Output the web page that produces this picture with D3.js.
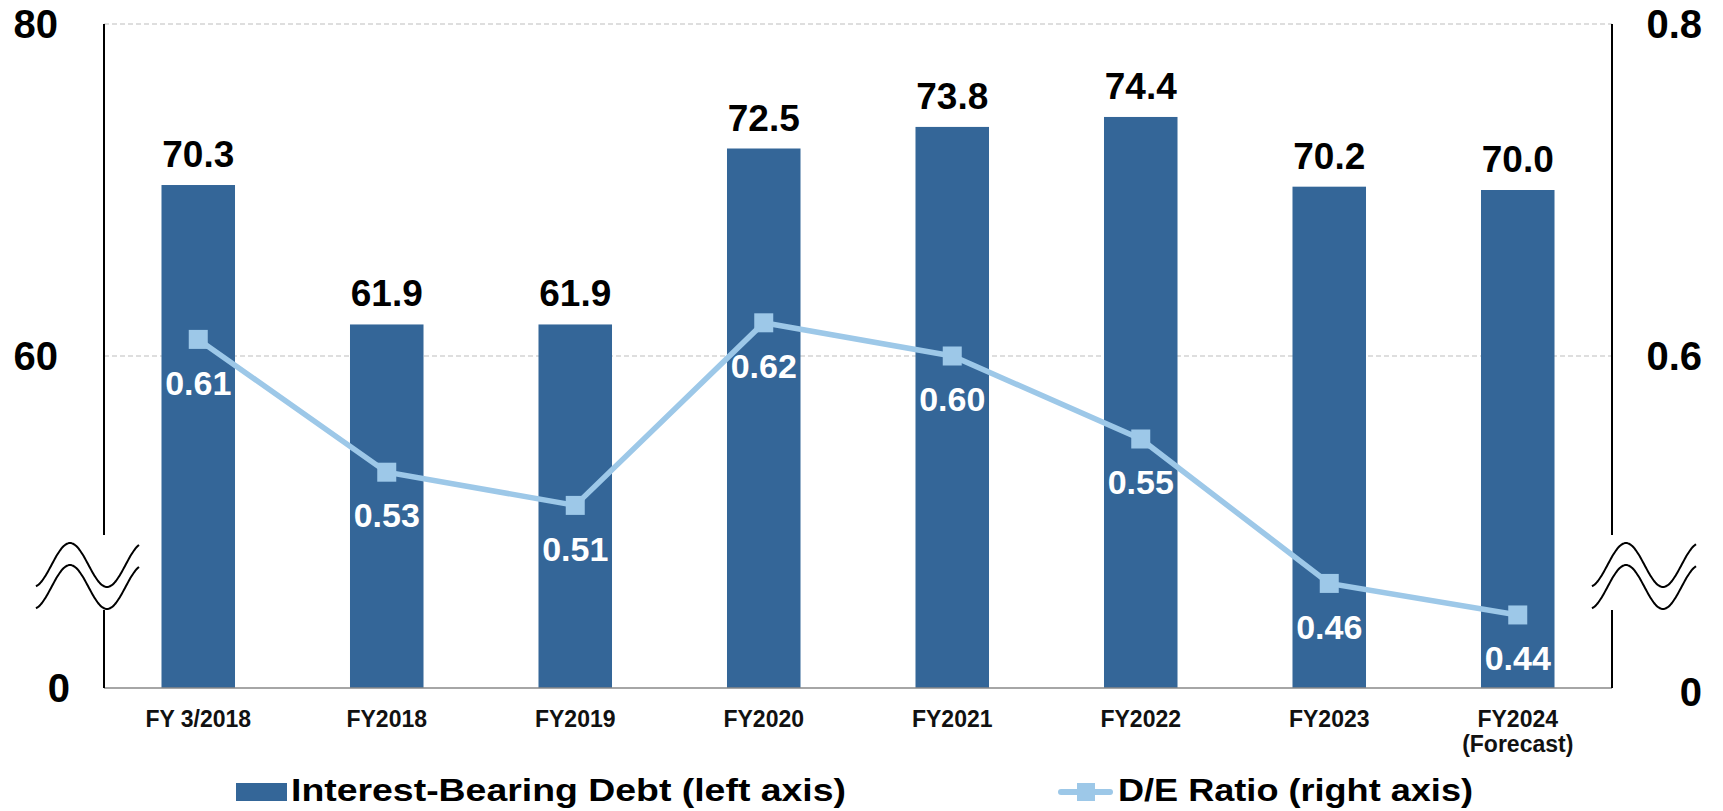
<!DOCTYPE html>
<html>
<head>
<meta charset="utf-8">
<script src="https://cdn.jsdelivr.net/npm/d3@7"></script>
<style>
  html, body { margin: 0; padding: 0; background: #fff; }
  text { font-family: "Liberation Sans", Arial, sans-serif; font-weight: bold; }
</style>
</head>
<body>
<div id="chart"></div>
<script>
// data
const years = ["FY 3/2018", "FY2018", "FY2019", "FY2020", "FY2021", "FY2022", "FY2023", "FY2024"];
const yearSub = ["", "", "", "", "", "", "", "(Forecast)"];
const debt = [70.3, 61.9, 61.9, 72.5, 73.8, 74.4, 70.2, 70.0];
const deRatio = [0.61, 0.53, 0.51, 0.62, 0.60, 0.55, 0.463, 0.444];
const deLabels = ["0.61", "0.53", "0.51", "0.62", "0.60", "0.55", "0.46", "0.44"];
const leftTicks = [60, 80];
const rightTicks = [0.6, 0.8];

const width = 1723, height = 811;
const barColor = "#346698", lineColor = "#9dc8e8";

const svg = d3.select("#chart")
              .append("svg")
              .attr("width", width)
              .attr("height", height);

const plotL = 104, plotR = 1612, plotT = 24, plotB = 688;

// axis is broken below 60 -> bottom of plot is really 40 (labelled 0)
const x = d3.scaleBand().domain(years).range([plotL, plotR]).paddingInner(0.61).paddingOuter(0.305);
const y = d3.scaleLinear().domain([40, 80]).range([plotB, plotT]);
const y2 = d3.scaleLinear().domain([0.4, 0.8]).range([plotB, plotT]);

// gridlines
svg.append("g")
   .selectAll("line")
   .data(leftTicks)
   .join("line")
   .attr("x1", plotL).attr("x2", plotR)
   .attr("y1", d => y(d)).attr("y2", d => y(d))
   .attr("stroke", "#d3d3d3")
   .attr("stroke-width", 1.5)
   .attr("stroke-dasharray", "5,3");

// bars
svg.append("g")
   .selectAll("rect")
   .data(debt)
   .join("rect")
   .attr("x", (d, i) => x(years[i]))
   .attr("y", d => y(d))
   .attr("width", x.bandwidth())
   .attr("height", d => plotB - y(d))
   .attr("fill", barColor);

// bar values
svg.append("g")
   .selectAll("text")
   .data(debt)
   .join("text")
   .attr("x", (d, i) => x(years[i]) + x.bandwidth() / 2)
   .attr("y", d => y(d) - 18)
   .attr("text-anchor", "middle")
   .attr("font-size", 37)
   .attr("fill", "#000")
   .text(d => d.toFixed(1));

// baseline
svg.append("line")
   .attr("x1", plotL).attr("x2", plotR)
   .attr("y1", plotB).attr("y2", plotB)
   .attr("stroke", "#888")
   .attr("stroke-width", 1.5);

// axis lines with a gap for the break mark
const gapTop = 535, gapBottom = 610;
[plotL, plotR].forEach(ax => {
    svg.append("path")
       .attr("d", `M${ax},${plotT}V${gapTop}M${ax},${gapBottom}V${plotB}`)
       .attr("stroke", "#000")
       .attr("stroke-width", 2)
       .attr("fill", "none");
});

// break marks (two waves)
function wave(x0, x1, peakX, cy) {
    const pts = d3.range(x0, x1 + 0.5, 1).map(px => [px, cy - 22 * Math.cos(2 * Math.PI * (px - peakX) / 74)]);
    return d3.line().curve(d3.curveBasis)(pts);
}
[[36, 139, 70], [1592, 1696, 1626]].forEach(([x0, x1, p]) => {
    [565, 587].forEach(cy => {
        svg.append("path")
           .attr("d", wave(x0, x1, p, cy))
           .attr("stroke", "#000")
           .attr("stroke-width", 2)
           .attr("fill", "none");
    });
});

// left tick labels
svg.append("g")
   .selectAll("text")
   .data(leftTicks)
   .join("text")
   .attr("x", 58)
   .attr("y", d => y(d))
   .attr("dy", "0.36em")
   .attr("text-anchor", "end")
   .attr("font-size", 40)
   .text(d => d);
svg.append("text")
   .attr("x", 70).attr("y", plotB).attr("dy", "0.36em")
   .attr("text-anchor", "end").attr("font-size", 40)
   .text("0");

// right tick labels
svg.append("g")
   .selectAll("text")
   .data(rightTicks)
   .join("text")
   .attr("x", 1702)
   .attr("y", d => y2(d))
   .attr("dy", "0.36em")
   .attr("text-anchor", "end")
   .attr("font-size", 40)
   .text(d => d.toFixed(1));
svg.append("text")
   .attr("x", 1702).attr("y", plotB + 4).attr("dy", "0.36em")
   .attr("text-anchor", "end").attr("font-size", 40)
   .text("0");

// x labels
const xl = svg.append("g")
   .selectAll("text")
   .data(years)
   .join("text")
   .attr("x", d => x(d) + x.bandwidth() / 2)
   .attr("y", 727)
   .attr("text-anchor", "middle")
   .attr("font-size", 23)
   .attr("fill", "#111");
xl.append("tspan").text(d => d);
xl.append("tspan")
  .attr("x", d => x(d) + x.bandwidth() / 2)
  .attr("dy", 25)
  .text((d, i) => yearSub[i]);

// D/E line
const cx = i => x(years[i]) + x.bandwidth() / 2;
svg.append("path")
   .datum(deRatio)
   .attr("d", d3.line().x((d, i) => cx(i)).y(d => y2(d)))
   .attr("stroke", lineColor)
   .attr("stroke-width", 5.5)
   .attr("fill", "none");

svg.append("g")
   .selectAll("rect")
   .data(deRatio)
   .join("rect")
   .attr("x", (d, i) => cx(i) - 9.5)
   .attr("y", d => y2(d) - 9.5)
   .attr("width", 19).attr("height", 19)
   .attr("fill", lineColor);

svg.append("g")
   .selectAll("text")
   .data(deRatio)
   .join("text")
   .attr("x", (d, i) => cx(i))
   .attr("y", d => y2(d) + 43)
   .attr("dy", "0.36em")
   .attr("text-anchor", "middle")
   .attr("font-size", 34)
   .attr("fill", "#fff")
   .text((d, i) => deLabels[i]);

// legend (text is a bit stretched sideways in the original)
const lg = svg.append("g");
lg.append("rect")
  .attr("x", 236).attr("y", 783).attr("width", 51).attr("height", 18)
  .attr("fill", barColor);
lg.append("text")
  .attr("x", 291).attr("y", 801)
  .attr("font-size", 32)
  .attr("textLength", 555).attr("lengthAdjust", "spacingAndGlyphs")
  .text("Interest-Bearing Debt (left axis)");

lg.append("line")
  .attr("x1", 1061).attr("x2", 1110).attr("y1", 792).attr("y2", 792)
  .attr("stroke", lineColor).attr("stroke-width", 6).attr("stroke-linecap", "round");
lg.append("rect")
  .attr("x", 1077).attr("y", 783).attr("width", 18).attr("height", 18)
  .attr("fill", lineColor);
lg.append("text")
  .attr("x", 1118).attr("y", 801)
  .attr("font-size", 32)
  .attr("textLength", 355).attr("lengthAdjust", "spacingAndGlyphs")
  .text("D/E Ratio (right axis)");
</script>
</body>
</html>
